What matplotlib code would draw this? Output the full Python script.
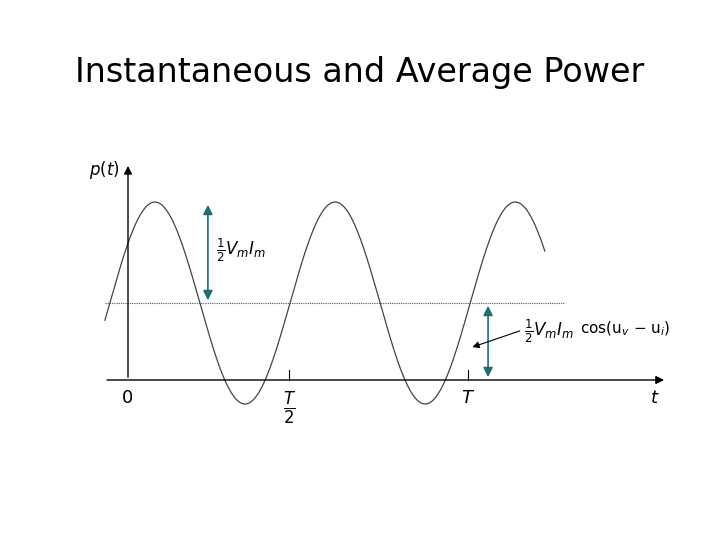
import numpy as np
import matplotlib
matplotlib.use("Agg")
from matplotlib import pyplot as plt

# time in units of T, power in units of 100 px of the reference
t_start, t_end = -0.068, 1.226
p_avg = 0.77          # 1/2 Vm Im cos(thv - thi)
p_amp = 1.01          # 1/2 Vm Im
p_period = 0.53
p_phase = 0.079
tick_pos = [0.0, 0.474, 1.0]

t = np.linspace(t_start, t_end, 600)
p = p_avg + p_amp * np.cos(2 * np.pi * (t - p_phase) / p_period)

fig = plt.figure(figsize=(7.2, 5.4), dpi=100)
ax = fig.add_axes([0, 0, 1, 1])
ax.set_xlim(-128 / 340, 592 / 340)
ax.set_ylim(-1.6, 3.8)
ax.axis("off")

fig.text(0.5, 0.865, "Instantaneous and Average Power", ha="center", va="center",
         fontsize=24, family="DejaVu Sans")

ax.plot(t, p, color="#444444", lw=0.9)
ax.plot([t_start, 1.285], [p_avg, p_avg], color="#336666", lw=0.8, ls=(0, (1, 1)))

# axes with arrows
ax.annotate("", xy=(1.585, 0), xytext=(-0.07, 0),
            arrowprops=dict(arrowstyle="-|>", color="black", lw=1, mutation_scale=12))
ax.annotate("", xy=(0, 2.17), xytext=(0, 0),
            arrowprops=dict(arrowstyle="-|>", color="black", lw=1, mutation_scale=12))
for tp in tick_pos[1:]:
    ax.plot([tp, tp], [0, 0.1], color="black", lw=0.8)

teal = "#1f6f6f"
ax.annotate("", xy=(0.235, p_avg + p_amp), xytext=(0.235, p_avg),
            arrowprops=dict(arrowstyle="<|-|>", color=teal, lw=1.2, mutation_scale=14))
ax.annotate("", xy=(1.059, p_avg), xytext=(1.059, 0),
            arrowprops=dict(arrowstyle="<|-|>", color=teal, lw=1.2, mutation_scale=14))
ax.annotate("", xy=(1.005, 0.32), xytext=(1.16, 0.5),
            arrowprops=dict(arrowstyle="-|>", color="black", lw=0.8, mutation_scale=10))

ax.text(0.26, 1.3, r"$\frac{1}{2}V_mI_m$", fontsize=12, ha="left", va="center")
ax.text(1.165, 0.49, r"$\frac{1}{2}V_mI_m$", fontsize=12, ha="left", va="center")
ax.text(1.33, 0.51, r"cos(u$_v$ $-$ u$_i$)", fontsize=11, ha="left", va="center")
ax.text(-0.07, 2.1, r"$p(t)$", fontsize=12, ha="center", va="center")
ax.text(0, -0.18, "0", fontsize=13, ha="center", va="center")
ax.text(tick_pos[1], -0.28, r"$\frac{T}{2}$", fontsize=17, ha="center", va="center")
ax.text(tick_pos[2], -0.18, r"$T$", fontsize=13, ha="center", va="center")
ax.text(1.55, -0.18, r"$t$", fontsize=13, ha="center", va="center")

fig.savefig("out.png", dpi=100)
